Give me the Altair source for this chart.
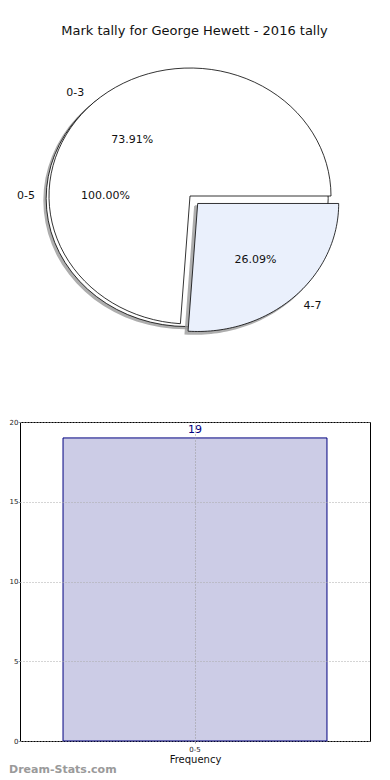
import altair as alt
import pandas as pd

# ---------------- data ----------------
TITLE = "Mark tally for George Hewett - 2016 tally"
inner_labels = ["0-3", "4-7"]
inner_counts = [17, 6]
inner_explode = [0.0, 0.08]
outer_labels = ["0-5"]
outer_counts = [19]
bar_categories = ["0-5"]
bar_values = [19]
y_ticks = [0, 5, 10, 15, 20]

# ---------------- layout / style ----------------
FONT = "DejaVu Sans"
W = 350
PIE_H = 390
BAR_H = 319
CX, CY = 170, 187      # pie centre in pixels inside the pie panel
RX, RY = 141, 128      # pie radii in pixels (matplotlib ellipse)
N = 72
xs = alt.Scale(domain=[-CX / RX, (W - CX) / RX], nice=False, zero=False)
ys = alt.Scale(domain=[-(PIE_H - CY) / RY, CY / RY], nice=False, zero=False)


def prep(labels, counts, explode):
    df = pd.DataFrame({"label": labels, "count": counts, "explode": explode,
                       "idx": list(range(len(labels)))})
    return (alt.Chart(df)
            .transform_window(cum="sum(count)", sort=[alt.SortField("idx")], frame=[None, 0])
            .transform_joinaggregate(total="sum(count)")
            .transform_calculate(a0="(datum.cum - datum.count) / datum.total * 2 * PI")
            .transform_calculate(a1="datum.cum / datum.total * 2 * PI")
            .transform_calculate(mid="(datum.a0 + datum.a1) / 2")
            .transform_calculate(ex="datum.explode * cos(datum.mid)")
            .transform_calculate(ey="datum.explode * sin(datum.mid)")
            .transform_calculate(pct="format(datum.count / datum.total, '.2%')"))


def shape(base, dx, dy, sel=None, closed=True, **mark):
    c = base
    if sel is not None:
        c = c.transform_filter(alt.datum.label == sel)
    c = (c.transform_calculate(k=f"sequence(0, {N + 3})")
         .transform_flatten(["k"])
         .transform_calculate(ang=f"datum.a0 + (datum.a1 - datum.a0) * (datum.k - 1) / {N}")
         .transform_calculate(arc=f"datum.k >= 1 && datum.k <= {N + 1}")
         .transform_calculate(px=f"datum.ex + ({dx}) + (datum.arc ? cos(datum.ang) : 0)")
         .transform_calculate(py=f"datum.ey + ({dy}) + (datum.arc ? sin(datum.ang) : 0)"))
    if not closed:
        c = c.transform_filter("datum.arc")
    return c.mark_line(interpolate="linear", **mark).encode(
        x=alt.X("px:Q", scale=xs, axis=None),
        y=alt.Y("py:Q", scale=ys, axis=None),
        order="k:Q",
        detail="label:N",
    )


def labels(base, r, align, cond):
    c = base.transform_filter(cond) if cond else base
    c = (c.transform_calculate(lx=f"datum.ex + {r} * cos(datum.mid)")
         .transform_calculate(ly=f"datum.ey + {r} * sin(datum.mid)"))
    return c.mark_text(align=align, baseline="middle", fontSize=11, font=FONT, color="#111111")


inner = prep(inner_labels, inner_counts, inner_explode)
outer = prep(outer_labels, outer_counts, [0.0])

layers = [
    shape(outer, -0.035, -0.035, closed=False, fill="#9a9a9a", stroke="#9a9a9a", strokeWidth=1.5, opacity=0.8),
    shape(outer, -0.02, -0.02, closed=False, fill="#ffffff", stroke="#000000", strokeWidth=0.8),
    shape(inner, 0, 0, sel="0-3", fill="#ffffff", stroke="#000000", strokeWidth=0.8),
    shape(inner, -0.02, -0.02, sel="4-7", fill="#9a9a9a", stroke="#9a9a9a", strokeWidth=1.5, opacity=0.8),
    shape(inner, 0, 0, sel="4-7", fill="#eaf0fc", stroke="#000000", strokeWidth=0.8),
]
for base in (outer, inner):
    for align, cond in (("left", "cos(datum.mid) >= 0"), ("right", "cos(datum.mid) < 0")):
        layers.append(labels(base, 1.1, align, cond).encode(
            x=alt.X("lx:Q", scale=xs, axis=None), y=alt.Y("ly:Q", scale=ys, axis=None),
            text="label:N"))
    layers.append(labels(base, 0.6, "center", None).encode(
        x=alt.X("lx:Q", scale=xs, axis=None), y=alt.Y("ly:Q", scale=ys, axis=None),
        text="pct:N"))

title_df = pd.DataFrame({"t": [TITLE]})
layers.append(alt.Chart(title_df).mark_text(fontSize=13, font=FONT, color="#111111",
                                            baseline="middle", align="center")
              .encode(x=alt.value(174.5), y=alt.value(22), text="t:N"))

pie = alt.layer(*layers).properties(
    width=W, height=PIE_H, view=alt.ViewBackground(stroke="transparent"))

# ---------------- bar chart ----------------
bar_df = pd.DataFrame({"cat": bar_categories, "val": bar_values})
bb = alt.Chart(bar_df)
bx = alt.X("cat:N", scale=alt.Scale(paddingInner=0, paddingOuter=0.163),
           axis=alt.Axis(title="Frequency", labelAngle=0, labelFontSize=7, titleFontSize=10,
                         titleFontWeight="normal", titleColor="#111111", labelColor="#222222",
                         grid=True, gridDash=[1, 2], gridColor="#999999", domain=False,
                         tickSize=2, tickColor="#999999", bandPosition=0.5,
                         labelPadding=2, titlePadding=2, zindex=1))
by = alt.Y("val:Q", scale=alt.Scale(domain=[0, 20], nice=False),
           axis=alt.Axis(title=None, values=y_ticks, labelFontSize=7, labelColor="#222222",
                         grid=True, gridDash=[1, 2], gridColor="#aaaaaa", domain=False,
                         tickSize=2, tickColor="#999999", labelPadding=0, zindex=1))
bars = bb.mark_bar(fill="#ccccE6", stroke="#000080", strokeWidth=1).encode(x=bx, y=by)
vals = bb.mark_text(baseline="bottom", dy=-3, color="#000080", fontSize=11, font=FONT).encode(
    x="cat:N", y="val:Q", text="val:Q")
wm = bb.mark_text(text="Dream-Stats.com", align="left", baseline="middle", fontSize=11,
                  fontWeight="bold", font=FONT, color="#9a9a9a").encode(
    x=alt.value(-11), y=alt.value(348))
bar = alt.layer(bars, vals, wm).properties(
    width=W, height=BAR_H, view=alt.ViewBackground(stroke="black", strokeWidth=1))

chart = alt.vconcat(pie, bar, spacing=23, bounds="flush").properties(
    padding={"left": 0, "top": 0, "right": 0, "bottom": 0}
).configure(font=FONT)

chart.save("out.html", embed_options={"renderer": "svg", "actions": False})
